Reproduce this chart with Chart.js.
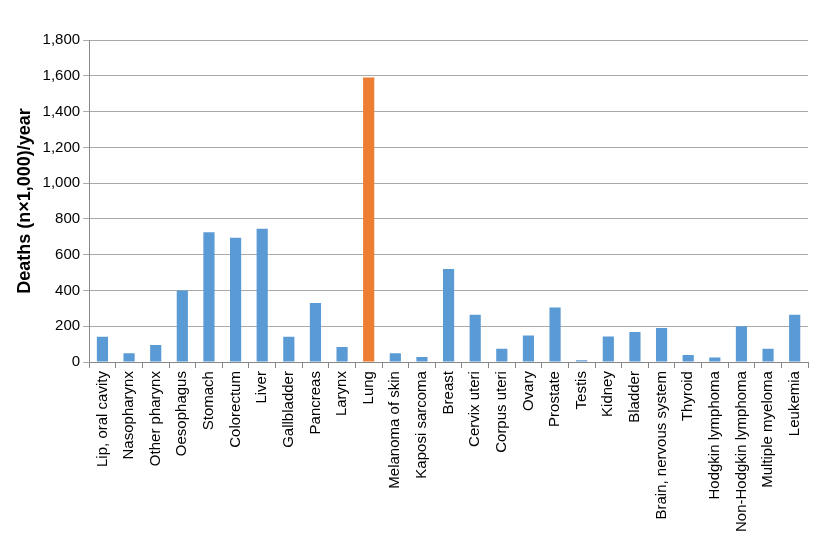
<!DOCTYPE html>
<html><head><script src="https://cdn.jsdelivr.net/npm/chart.js@4"></script>
<style>body{margin:0;background:#fff}#w{width:820px;height:537px}</style></head>
<body><div id="w"><canvas id="c"></canvas></div>
<script>
const categories=["Lip, oral cavity","Nasopharynx","Other pharynx","Oesophagus","Stomach","Colorectum","Liver","Gallbladder","Pancreas","Larynx","Lung","Melanoma of skin","Kaposi sarcoma","Breast","Cervix uteri","Corpus uteri","Ovary","Prostate","Testis","Kidney","Bladder","Brain, nervous system","Thyroid","Hodgkin lymphoma","Non-Hodgkin lymphoma","Multiple myeloma","Leukemia"];
const deaths=[142,50,95,400,725,695,745,142,330,85,1590,50,28,520,265,75,148,305,10,143,168,190,40,25,200,75,265];
const colors=categories.map(c=>c==="Lung"?"#ed7d31":"#5b9bd5");
new Chart(document.getElementById('c'),{type:'bar',
data:{labels:categories,datasets:[{data:deaths,backgroundColor:colors,barPercentage:0.42,categoryPercentage:1}]},
options:{responsive:true,maintainAspectRatio:false,animation:false,
layout:{padding:{top:40,right:12,left:10,bottom:2}},
plugins:{legend:{display:false},tooltip:{enabled:false}},
scales:{
x:{grid:{display:true,drawOnChartArea:false,color:'#888',tickLength:6,offset:true},border:{color:'#888'},
ticks:{maxRotation:90,minRotation:90,color:'#000',font:{family:'Liberation Sans, Arial',size:15}}},
y:{min:0,max:1800,ticks:{stepSize:200,color:'#000',font:{family:'Liberation Sans, Arial',size:15},callback:v=>v.toLocaleString('en-US')},
grid:{color:'#aaa',tickLength:6},border:{color:'#888'},
title:{display:true,text:'Deaths (n×1,000)/year',color:'#000',font:{family:'Liberation Sans, Arial',size:18,weight:'bold'}}}}}});
</script></body></html>
